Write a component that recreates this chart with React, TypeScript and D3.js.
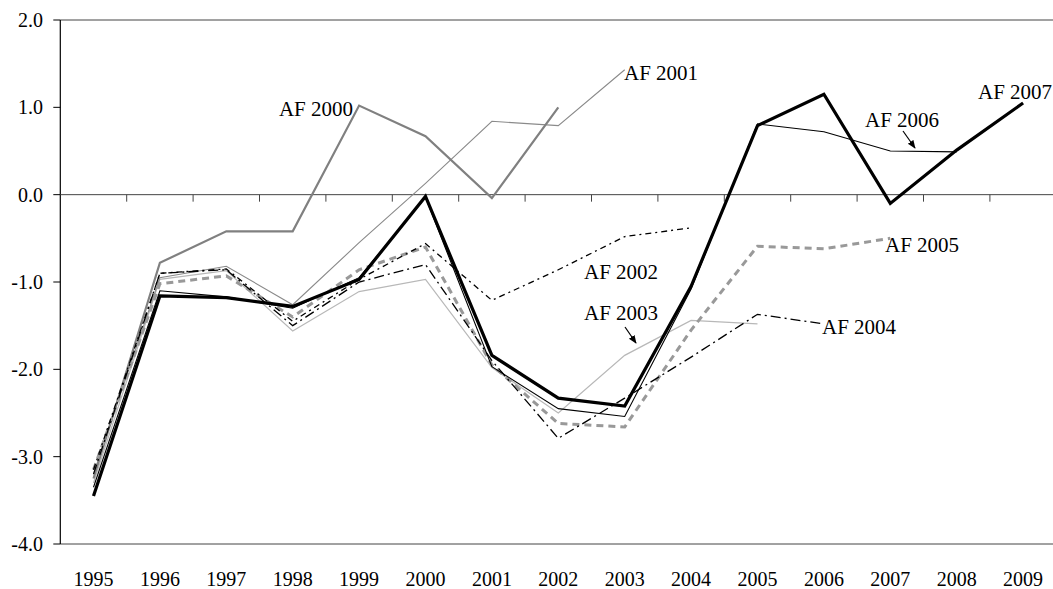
import React from "react";
import * as d3 from "d3";

// Category axis and y ticks
const years = ["1995","1996","1997","1998","1999","2000","2001","2002","2003","2004","2005","2006","2007","2008","2009"];
const yTicks = [2, 1, 0, -1, -2, -3, -4];

// Each forecast vintage runs from 1995 to two years after its release
const af2000 = [-3.25, -0.78, -0.42, -0.42, 1.02, 0.67, -0.04, 1.0];
const af2001 = [-3.2, -0.95, -0.82, -1.26, -0.55, 0.13, 0.84, 0.79, 1.43];
const af2002 = [-3.15, -0.9, -0.85, -1.45, -0.97, -0.56, -1.21, -0.86, -0.48, -0.38];
const af2003 = [-3.3, -0.97, -0.87, -1.56, -1.11, -0.97, -1.98, -2.5, -1.84, -1.44, -1.48];
const af2004 = [-3.2, -0.9, -0.86, -1.5, -1.0, -0.8, -1.9, -2.79, -2.33, -1.86, -1.37, -1.48];
const af2005 = [-3.15, -1.02, -0.93, -1.4, -0.86, -0.6, -1.95, -2.62, -2.66, -1.55, -0.59, -0.62, -0.5];
const af2006 = [-3.35, -1.1, -1.17, -1.3, -0.95, -0.03, -1.97, -2.45, -2.54, -1.08, 0.81, 0.72, 0.5, 0.49];
const af2007 = [-3.45, -1.16, -1.18, -1.28, -0.97, -0.02, -1.84, -2.33, -2.42, -1.05, 0.79, 1.15, -0.1, 0.51, 1.05];

const W = 1053;
const H = 589;
const FONT = "'Liberation Serif', 'Times New Roman', serif";

const plotLeft = 60.3;
const plotRight = 1056.3;
const plotTop = 20;
const plotBottom = 544;

type Series = {
  name: string;
  values: number[];
  stroke: string;
  width: number;
  dash?: string;
};

// drawn back to front
const series: Series[] = [
  { name: "AF 2003", values: af2003, stroke: "#b8b8b8", width: 1.2 },
  { name: "AF 2001", values: af2001, stroke: "#8a8a8a", width: 1.1 },
  { name: "AF 2000", values: af2000, stroke: "#808080", width: 2.2 },
  { name: "AF 2005", values: af2005, stroke: "#999999", width: 3, dash: "7,5" },
  { name: "AF 2004", values: af2004, stroke: "#000000", width: 1.3, dash: "10,4,2,4" },
  { name: "AF 2002", values: af2002, stroke: "#000000", width: 1.3, dash: "6,4,2,4" },
  { name: "AF 2006", values: af2006, stroke: "#000000", width: 1.1 },
  { name: "AF 2007", values: af2007, stroke: "#000000", width: 3.2 },
];

// label placement: [x, baseline y, anchor]
const labelPos: Record<string, [number, number, "start" | "end"]> = {
  "AF 2000": [353, 116, "end"],
  "AF 2001": [624, 80, "start"],
  "AF 2002": [584, 279, "start"],
  "AF 2003": [584, 320, "start"],
  "AF 2004": [822, 334, "start"],
  "AF 2005": [885, 252, "start"],
  "AF 2006": [865, 127, "start"],
  "AF 2007": [978, 99, "start"],
};

// small arrows pointing from label to line
const arrows: [number, number, number, number][] = [
  [625, 327, 636, 343],
  [903, 131, 915, 148],
];

const fmt = (t: number) => d3.format(".1f")(t).replace("\u2212", "-");

export default function App() {
  const x = d3.scaleBand<string>().domain(years).range([plotLeft, plotRight]).paddingInner(0).paddingOuter(0);
  const y = d3.scaleLinear().domain([-4, 2]).range([plotBottom, plotTop]);
  const cx = (i: number) => (x(years[i]) as number) + x.bandwidth() / 2;

  const line = d3
    .line<number>()
    .x((_, i) => cx(i))
    .y((d) => y(d));

  const boundaries = years.map((yr) => (x(yr) as number) + x.bandwidth()).slice(0, years.length - 1);

  return (
    <svg
      width={W}
      height={H}
      style={{ position: "absolute", left: 0, top: 0, background: "#fff" }}
      fontFamily={FONT}
    >
      <rect x={0} y={0} width={W} height={H} fill="#fff" />
      {/* frame */}
      <line x1={plotLeft} x2={plotRight} y1={plotTop} y2={plotTop} stroke="#444" strokeWidth={1} />
      <line x1={plotLeft} x2={plotRight} y1={plotBottom} y2={plotBottom} stroke="#444" strokeWidth={1} />
      <line x1={plotRight} x2={plotRight} y1={plotTop} y2={plotBottom} stroke="#444" strokeWidth={1} />
      <line x1={plotLeft} x2={plotLeft} y1={plotTop} y2={plotBottom} stroke="#000" strokeWidth={1.2} />

      {/* y ticks and labels */}
      {yTicks.map((t) => (
        <g key={t}>
          <line x1={plotLeft - 7} x2={plotLeft} y1={y(t)} y2={y(t)} stroke="#000" strokeWidth={1} />
          <text x={43} y={y(t)} dy="0.35em" textAnchor="end" fontSize={20} fill="#000">
            {fmt(t)}
          </text>
        </g>
      ))}

      {/* zero axis with category ticks */}
      <line x1={plotLeft} x2={plotRight} y1={y(0)} y2={y(0)} stroke="#444" strokeWidth={1} />
      {boundaries.map((b, i) => (
        <line key={i} x1={b} x2={b} y1={y(0)} y2={y(0) + 7} stroke="#444" strokeWidth={1} />
      ))}

      {/* category labels */}
      {years.map((yr, i) => (
        <text key={yr} x={cx(i)} y={586} textAnchor="middle" fontSize={20} fill="#000">
          {yr}
        </text>
      ))}

      {/* series */}
      {series.map((s) => (
        <path
          key={s.name}
          d={line(s.values) || ""}
          fill="none"
          stroke={s.stroke}
          strokeWidth={s.width}
          strokeDasharray={s.dash}
          strokeLinejoin="miter"
        />
      ))}

      {/* series labels */}
      {series.map((s) => {
        const [lx, ly, anchor] = labelPos[s.name];
        return (
          <text key={s.name} x={lx} y={ly} textAnchor={anchor} fontSize={21} fill="#000">
            {s.name}
          </text>
        );
      })}

      <defs>
        <marker id="arr" viewBox="0 0 10 10" refX="9" refY="5" markerWidth="7" markerHeight="7" orient="auto">
          <path d="M0,1 L10,5 L0,9 z" fill="#000" />
        </marker>
      </defs>
      {arrows.map(([x1, y1, x2, y2], i) => (
        <line key={i} x1={x1} y1={y1} x2={x2} y2={y2} stroke="#000" strokeWidth={1.2} markerEnd="url(#arr)" />
      ))}
    </svg>
  );
}
